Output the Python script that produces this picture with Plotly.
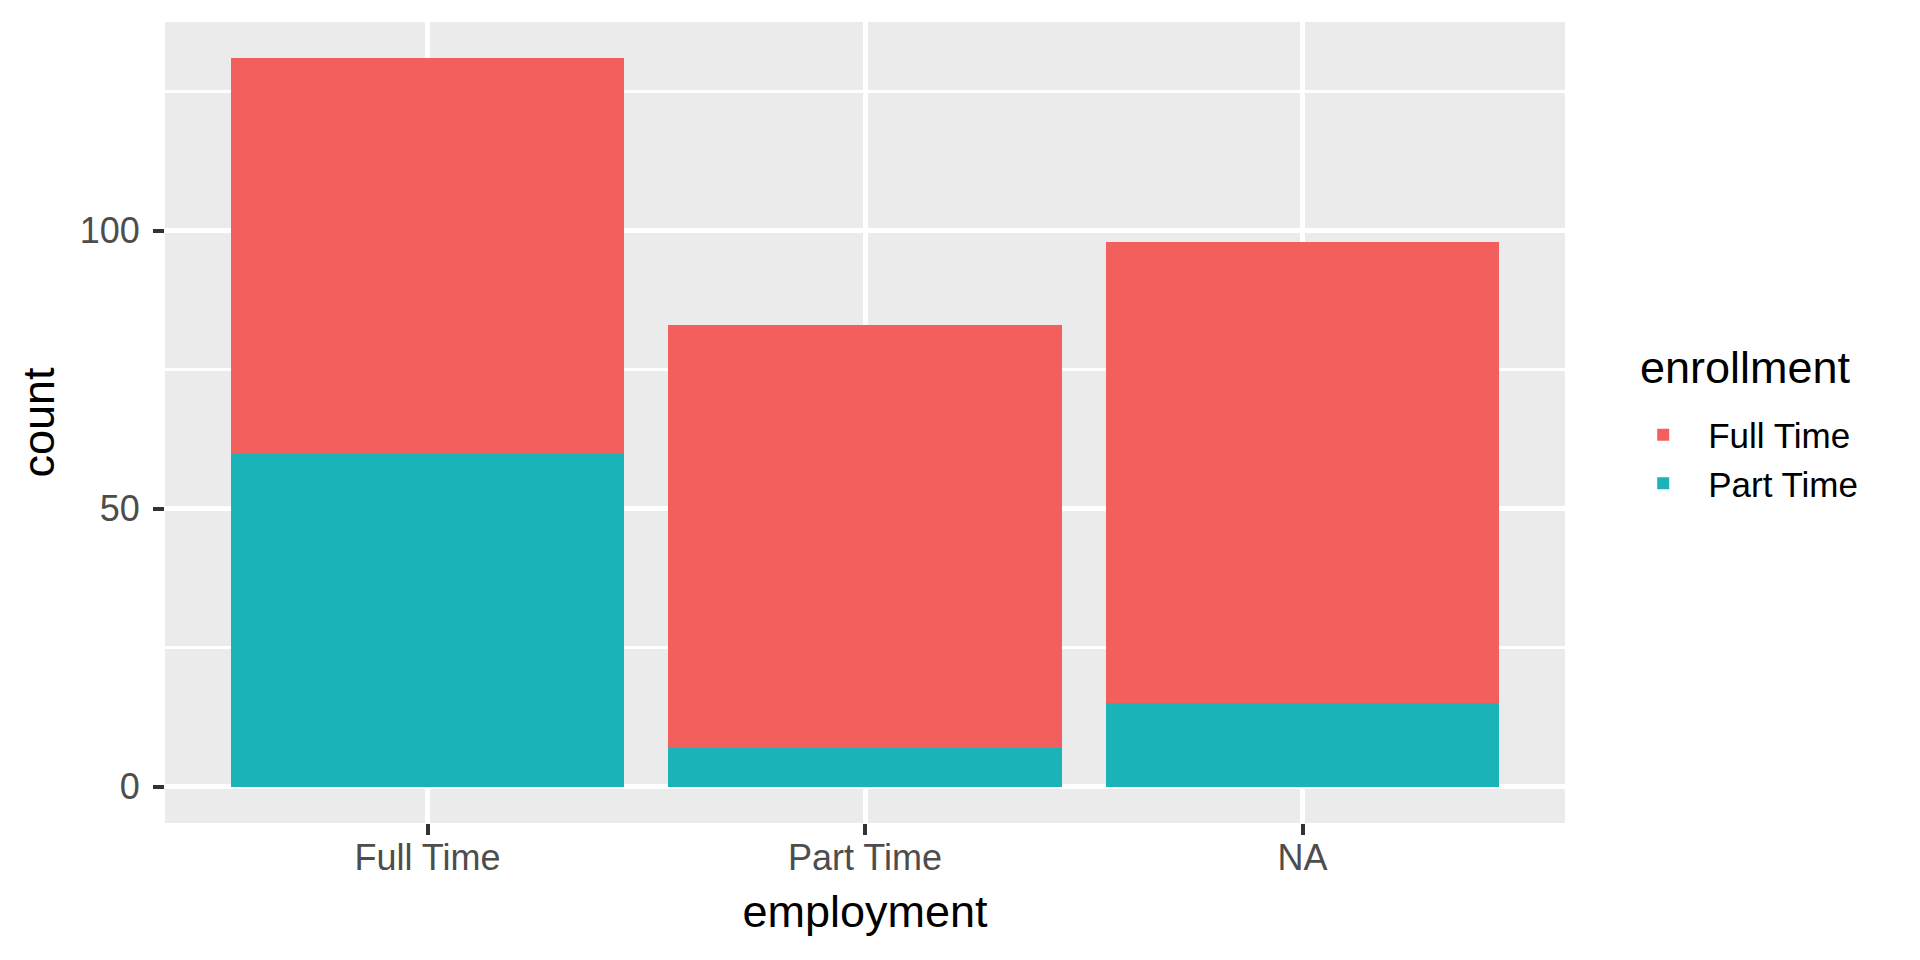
import plotly.graph_objects as go

employment = ["Full Time", "Part Time", "NA"]
enroll_full_time = [71, 76, 83]
enroll_part_time = [60, 7, 15]

font_family = "Liberation Sans, Arial, sans-serif"

fig = go.Figure()
# part time goes first so it sits at the bottom of the stack
fig.add_trace(go.Bar(x=employment, y=enroll_part_time, name="Part Time",
                     marker=dict(color="#19B3B8", line=dict(width=0))))
fig.add_trace(go.Bar(x=employment, y=enroll_full_time, name="Full Time",
                     marker=dict(color="#F35F5C", line=dict(width=0))))

# page body has an 8px margin, so shift everything up/left by that
fig.update_layout(
    width=1920, height=960,
    barmode="stack", bargap=0.1,
    paper_bgcolor="white", plot_bgcolor="#EBEBEB",
    margin=dict(l=157, r=363, t=14, b=145),
    font=dict(family=font_family, color="black"),
    legend=dict(
        font=dict(size=35, color="black"),
        traceorder="reversed",
        itemwidth=80,
        x=1.038, xanchor="left", y=0.4544, yanchor="middle",
        bgcolor="rgba(0,0,0,0)",
    ),
    showlegend=True,
)

fig.add_annotation(
    text="enrollment", xref="paper", yref="paper",
    x=1.052, y=0.569, xanchor="left", yanchor="middle",
    showarrow=False, font=dict(size=45, color="black"),
)

fig.update_xaxes(
    type="category", range=[-0.6, 2.6],
    showgrid=True, gridcolor="white", gridwidth=5,
    ticks="outside", ticklen=11, tickwidth=4, tickcolor="#333333",
    tickfont=dict(size=36, color="#4D4D4D"), ticklabelstandoff=-8,
    title=dict(text="employment", font=dict(size=45, color="black"), standoff=18),
    showline=False, zeroline=False,
)
fig.update_yaxes(
    range=[-6.55, 137.55], tickvals=[0, 50, 100],
    showgrid=True, gridcolor="white", gridwidth=5,
    minor=dict(tickvals=[25, 75, 125], showgrid=True, gridcolor="white", gridwidth=2.5),
    ticks="outside", ticklen=11, tickwidth=4, tickcolor="#333333",
    tickfont=dict(size=36, color="#4D4D4D"), ticklabelstandoff=6,
    title=dict(text="count", font=dict(size=45, color="black"), standoff=10),
    showline=False, zeroline=False,
)

fig.write_html("out.html")
